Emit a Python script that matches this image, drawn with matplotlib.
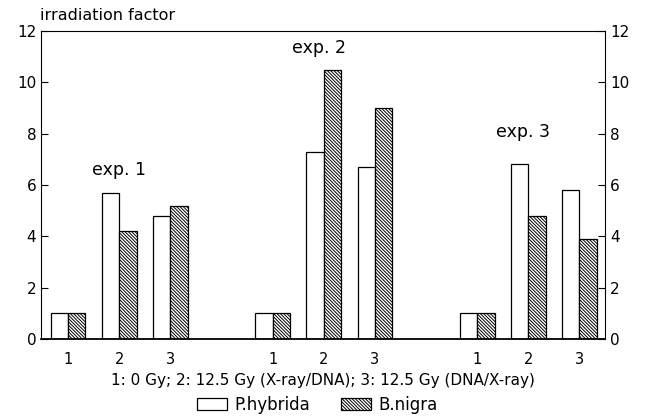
import matplotlib.pyplot as plt
import numpy as np

plt.rcParams['font.family'] = ['DejaVu Sans']
plt.rcParams['hatch.linewidth'] = 0.7

# data
positions = [0, 1, 2, 4, 5, 6, 8, 9, 10]
tick_labels = ['1', '2', '3', '1', '2', '3', '1', '2', '3']
p_hybrida = [1.0, 5.7, 4.8, 1.0, 7.3, 6.7, 1.0, 6.8, 5.8]
b_nigra = [1.0, 4.2, 5.2, 1.0, 10.5, 9.0, 1.0, 4.8, 3.9]
exp_labels = ['exp. 1', 'exp. 2', 'exp. 3']
exp_pos = [(1.0, 6.6), (4.9, 11.35), (8.9, 8.05)]

fig = plt.figure(figsize=(6.45, 4.18), dpi=100)
ax = fig.add_axes([41 / 645, 1 - 339 / 418, 564 / 645, 308 / 418])

x = np.array(positions)
w = 0.34
ax.bar(x - w / 2, p_hybrida, w, color='white', edgecolor='black',
       linewidth=0.9, label='P.hybrida')
ax.bar(x + w / 2, b_nigra, w, color='white', edgecolor='black',
       linewidth=0.9, hatch='\\' * 10, label='B.nigra')

for txt, (tx, ty) in zip(exp_labels, exp_pos):
    ax.text(tx, ty, txt, ha='center', va='center', fontsize=12.5)

ax.set_xlim(-0.53, 10.5)
ax.set_ylim(0, 12)
ax.set_yticks(range(0, 13, 2))
ax.set_xticks(positions)
ax.set_xticklabels(tick_labels)
ax.tick_params(axis='x', length=0, pad=9, labelsize=10.5)
ax.tick_params(axis='y', direction='in', length=5, right=True,
               labelright=True, labelsize=11, width=0.8)
for s in ax.spines.values():
    s.set_linewidth(0.8)
ax.spines['bottom'].set_linewidth(1.3)

ax.set_xlabel('1: 0 Gy; 2: 12.5 Gy (X-ray/DNA); 3: 12.5 Gy (DNA/X-ray)',
              fontsize=11, labelpad=5)
fig.text(40 / 645, 1 - 15 / 418, 'irradiation factor', fontsize=11.5,
         ha='left', va='center')

ax.legend(loc='upper center', bbox_to_anchor=(0.49, -0.162), ncol=2,
          frameon=False, fontsize=12, handlelength=1.8, handleheight=0.7,
          handletextpad=0.4, columnspacing=1.9, borderaxespad=0)

plt.savefig('out.png', dpi=100)
